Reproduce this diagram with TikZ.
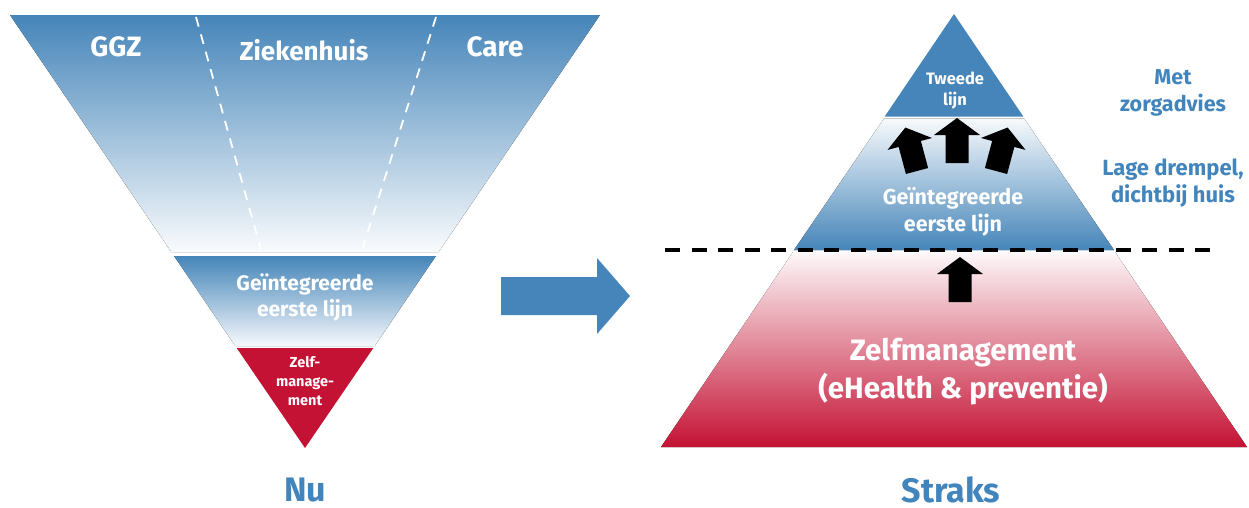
\documentclass[tikz,border=0pt]{standalone}
\usepackage{fontspec}
\setmainfont{Fira Sans}

\definecolor{zorgblauw}{RGB}{69,133,185}
\definecolor{zorgrood}{RGB}{196,18,52}
\definecolor{tekstblauw}{RGB}{66,132,188}

% black block arrow: base point, rotation
\newcommand{\blokpijl}[3]{%
  \fill[black,shift={(#1,#2)},rotate=#3] (-11.5,0) -- (-11.5,-28) -- (-23,-28) -- (0,-45)
    -- (23,-28) -- (11.5,-28) -- (11.5,0) -- cycle;}

\begin{document}
\begin{tikzpicture}[x=1pt,y=-1pt,every text node part/.style={align=center},
    wit/.style={text=white,inner sep=0pt},
    blauw/.style={text=tekstblauw,inner sep=0pt}]
    \useasboundingbox (0,0) rectangle (1249,507);

    % --------------------------------------------------------- %
    % ------------- Nu (funnel)
    % --------------------------------------------------------- %
    \fill[top color=zorgblauw,bottom color=zorgblauw!3!white] (10,15) -- (600,15) -- (438.6,252) -- (171.4,252) -- cycle;
    \draw[white,line width=1.8pt,dash pattern=on 10pt off 8pt] (196,17) -- (261,250);
    \draw[white,line width=1.8pt,dash pattern=on 10pt off 8pt] (436,17) -- (362,250);
    \fill[top color=zorgblauw,bottom color=zorgblauw!5!white] (174.1,256) -- (435.9,256) -- (374.7,346) -- (235.3,346) -- cycle;
    \fill[zorgrood] (236.7,348) -- (373.3,348) -- (305,448) -- cycle;

    \node[wit,font=\bfseries\fontsize{28}{30}\selectfont] (ggz) at (116,47) {GGZ};
    \node[wit,font=\bfseries\fontsize{26}{28}\selectfont] (zkh) at (304,50) {Ziekenhuis};
    \node[wit,font=\bfseries\fontsize{28}{30}\selectfont] (care) at (495,47) {Care};
    \node[wit,font=\bfseries\fontsize{21}{26}\selectfont] (eerstenu) at (305,297) {Geïntegreerde\\eerste lijn};
    \node[wit,font=\bfseries\fontsize{14.5}{19}\selectfont] (zelfnu) at (305,381) {Zelf-\\manage-\\ment};
    \node[blauw,font=\bfseries\fontsize{34}{36}\selectfont] (nu) at (305,490) {Nu};

    % --------------------------------------------------------- %
    % ------------- arrow
    % --------------------------------------------------------- %
    \fill[zorgblauw] (501,277) -- (597,277) -- (597,258) -- (630,296) -- (597,334) -- (597,315) -- (501,315) -- cycle;

    % --------------------------------------------------------- %
    % ------------- Straks (pyramid)
    % --------------------------------------------------------- %
    \fill[zorgblauw] (954,14) -- (1023.3,116.5) -- (884.7,116.5) -- cycle;
    \fill[top color=zorgblauw!4!white,bottom color=zorgblauw] (884,118.5) -- (1024,118.5) -- (1114,250) -- (794,250) -- cycle;
    \fill[top color=zorgrood!3!white,bottom color=zorgrood] (793,252) -- (1115,252) -- (1247,447) -- (661,447) -- cycle;
    \draw[black,line width=4pt,dash pattern=on 15pt off 11.5pt] (665,250) -- (1212,250);

    \blokpijl{917}{171}{15}
    \blokpijl{957}{163}{0}
    \blokpijl{996}{171}{-15}
    \blokpijl{960}{302}{0}

    \node[wit,font=\bfseries\fontsize{16.5}{21}\selectfont] (tweede) at (955,91) {Tweede\\lijn};
    \node[wit,font=\bfseries\fontsize{21.5}{27}\selectfont] (eerste) at (953,212) {Geïntegreerde\\eerste lijn};
    \node[wit,font=\bfseries\fontsize{29.5}{38}\selectfont] (zelf) at (963,372) {Zelfmanagement\\(eHealth \& preventie)};
    \node[blauw,font=\bfseries\fontsize{21.5}{27}\selectfont] (advies) at (1173,93) {Met\\zorgadvies};
    \node[blauw,font=\bfseries\fontsize{22}{27}\selectfont] (drempel) at (1173,183) {Lage drempel,\\dichtbij huis};
    \node[blauw,font=\bfseries\fontsize{34}{36}\selectfont] (straks) at (951,490) {Straks};

  \end{tikzpicture}
\end{document}
